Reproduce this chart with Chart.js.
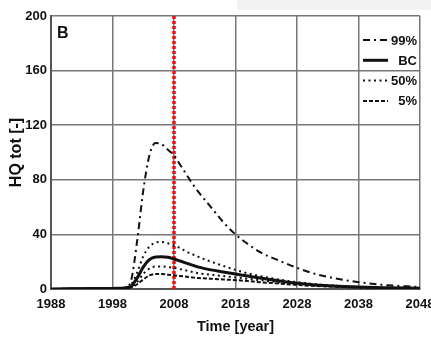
<!DOCTYPE html>
<html>
<head>
<meta charset="utf-8">
<script src="https://cdn.jsdelivr.net/npm/chart.js@4"></script>
<style>
  html, body { margin: 0; padding: 0; background: #fff; }
  #wrap { position: relative; width: 431px; height: 338px; }
  #shade { position: absolute; left: 237px; top: 0; width: 194px; height: 10px; background: #f2f2f2; }
  canvas { position: absolute; left: 0; top: 0; }
</style>
</head>
<body>
<div id="wrap">
  <div id="shade"></div>
  <canvas id="chart" width="431" height="338"></canvas>
</div>
<script>
// values
const years = [1988, 1995, 1999, 2000, 2001, 2002, 2003, 2004, 2005, 2006, 2007, 2008, 2009, 2010,
               2011, 2012, 2014, 2016, 2018, 2020, 2022, 2025, 2028, 2031, 2034, 2038, 2042, 2048];
const p99 = [0, 0.3, 0.5, 1, 6, 35, 72, 98, 107, 106, 102, 98, 91, 84,
             77, 71, 60, 49, 40, 33, 27, 21, 15.5, 11, 8, 5, 3, 1.5];
const bc = [0, 0.3, 0.5, 0.8, 2, 8, 16, 21.5, 23.5, 23.7, 23.2, 22, 20.5, 19,
            17.5, 16, 14, 12.5, 11, 9.5, 8, 6, 4.2, 3, 2.2, 1.5, 1, 0.5];
const upper = [0, 0.3, 0.5, 0.8, 3, 12, 24, 31, 34, 34.5, 33.5, 32, 30, 27.5,
               25.5, 23.5, 20, 17, 14, 11.5, 9.5, 7, 5, 3.5, 2.5, 1.6, 1, 0.5];
const p50 = [0, 0.3, 0.5, 0.8, 1.5, 5, 11, 15, 16.5, 16.5, 16, 15.5, 14.5, 13.5,
             12.5, 11.5, 10.5, 9.5, 8.5, 7.5, 6.5, 5, 3.8, 2.8, 2, 1.3, 0.8, 0.4];
const p5 = [0, 0.3, 0.5, 0.8, 1.2, 3.5, 7, 10, 11, 11, 10.5, 10, 9.5, 9,
            8.5, 8, 7.5, 7, 6.5, 5.8, 5, 4, 3, 2.2, 1.6, 1.1, 0.7, 0.3];
const markYear = 2008;
const xTicks = [1988, 1998, 2008, 2018, 2028, 2038, 2048];
const yTicks = [0, 40, 80, 120, 160, 200];
const panelLabel = 'B';

const FONT = "'Liberation Sans', Arial, sans-serif";
const toPts = arr => arr.map((v, i) => ({ x: years[i], y: v }));

function line(label, arr, dash, width) {
  return {
    label: label,
    data: toPts(arr),
    borderColor: '#111',
    borderWidth: width,
    borderDash: dash,
    pointRadius: 0,
    fill: false,
    cubicInterpolationMode: 'monotone'
  };
}

// legend drawn inside the plot, top right
const insideLegend = {
  id: 'insideLegend',
  afterDatasetsDraw(chart) {
    const ctx = chart.ctx;
    const area = chart.chartArea;
    const items = chart.data.datasets.filter(d => d.inLegend);
    ctx.save();
    ctx.font = 'bold 13px ' + FONT;
    ctx.textAlign = 'right';
    ctx.textBaseline = 'middle';
    ctx.fillStyle = '#111';
    items.forEach((d, i) => {
      const y = area.top + 24 + i * 20.3;
      const w = ctx.measureText(d.label).width;
      ctx.strokeStyle = d.borderColor;
      ctx.lineWidth = d.borderWidth;
      ctx.setLineDash(d.borderDash || []);
      ctx.beginPath();
      ctx.moveTo(area.right - 57, y);
      ctx.lineTo(Math.min(area.right - 32, area.right - 5 - w), y);
      ctx.stroke();
      ctx.fillText(d.label, area.right - 3, y + 1);
    });
    ctx.setLineDash([]);
    ctx.textAlign = 'left';
    ctx.font = 'bold 16px ' + FONT;
    ctx.fillText(panelLabel, area.left + 6, area.top + 18);
    ctx.restore();
  }
};

const datasets = [
  Object.assign(line('99%', p99, [7, 4, 2, 4], 2), { inLegend: true }),
  Object.assign(line('BC', bc, [], 3), { inLegend: true }),
  line('', upper, [2, 3.5], 2),
  Object.assign(line('50%', p50, [2, 3.5], 2), { inLegend: true }),
  Object.assign(line('5%', p5, [4, 2], 2), { inLegend: true }),
  {
    label: '',
    data: [{ x: markYear, y: yTicks[0] }, { x: markYear, y: yTicks[yTicks.length - 1] }],
    borderColor: '#ee1111',
    borderWidth: 3.5,
    borderDash: [3, 2],
    pointRadius: 0
  }
];

new Chart(document.getElementById('chart'), {
  type: 'line',
  data: { datasets: datasets },
  options: {
    responsive: false,
    animation: false,
    layout: { padding: { top: 16, right: 11, left: 0, bottom: 0 } },
    plugins: { legend: { display: false }, tooltip: { enabled: false } },
    scales: {
      x: {
        type: 'linear',
        min: xTicks[0],
        max: xTicks[xTicks.length - 1],
        afterBuildTicks: s => { s.ticks = xTicks.map(v => ({ value: v })); },
        afterFit: s => { s.height = 49; s.paddingLeft = 0; s.paddingRight = 0; },
        grid: { color: '#777', lineWidth: 1.5, drawTicks: false },
        border: { color: '#555', width: 2 },
        ticks: {
          color: '#111', padding: 8, maxRotation: 0,
          font: { family: FONT, size: 13, weight: 'bold' },
          callback: v => String(v)
        },
        title: {
          display: true, text: 'Time [year]', color: '#111',
          font: { family: FONT, size: 14.5, weight: 'bold' },
          padding: { top: 0, bottom: 2 }
        }
      },
      y: {
        min: yTicks[0],
        max: yTicks[yTicks.length - 1],
        afterBuildTicks: s => { s.ticks = yTicks.map(v => ({ value: v })); },
        afterFit: s => { s.width = 51; s.paddingTop = 0; s.paddingBottom = 0; },
        grid: { color: '#777', lineWidth: 1.5, drawTicks: false },
        border: { color: '#555', width: 2 },
        ticks: {
          color: '#111', padding: 4,
          font: { family: FONT, size: 13, weight: 'bold' }
        },
        title: {
          display: true, text: 'HQ tot [-]', color: '#111',
          font: { family: FONT, size: 16, weight: 'bold' },
          padding: { top: 7, bottom: 0 }
        }
      }
    }
  },
  plugins: [insideLegend]
});
</script>
</body>
</html>
